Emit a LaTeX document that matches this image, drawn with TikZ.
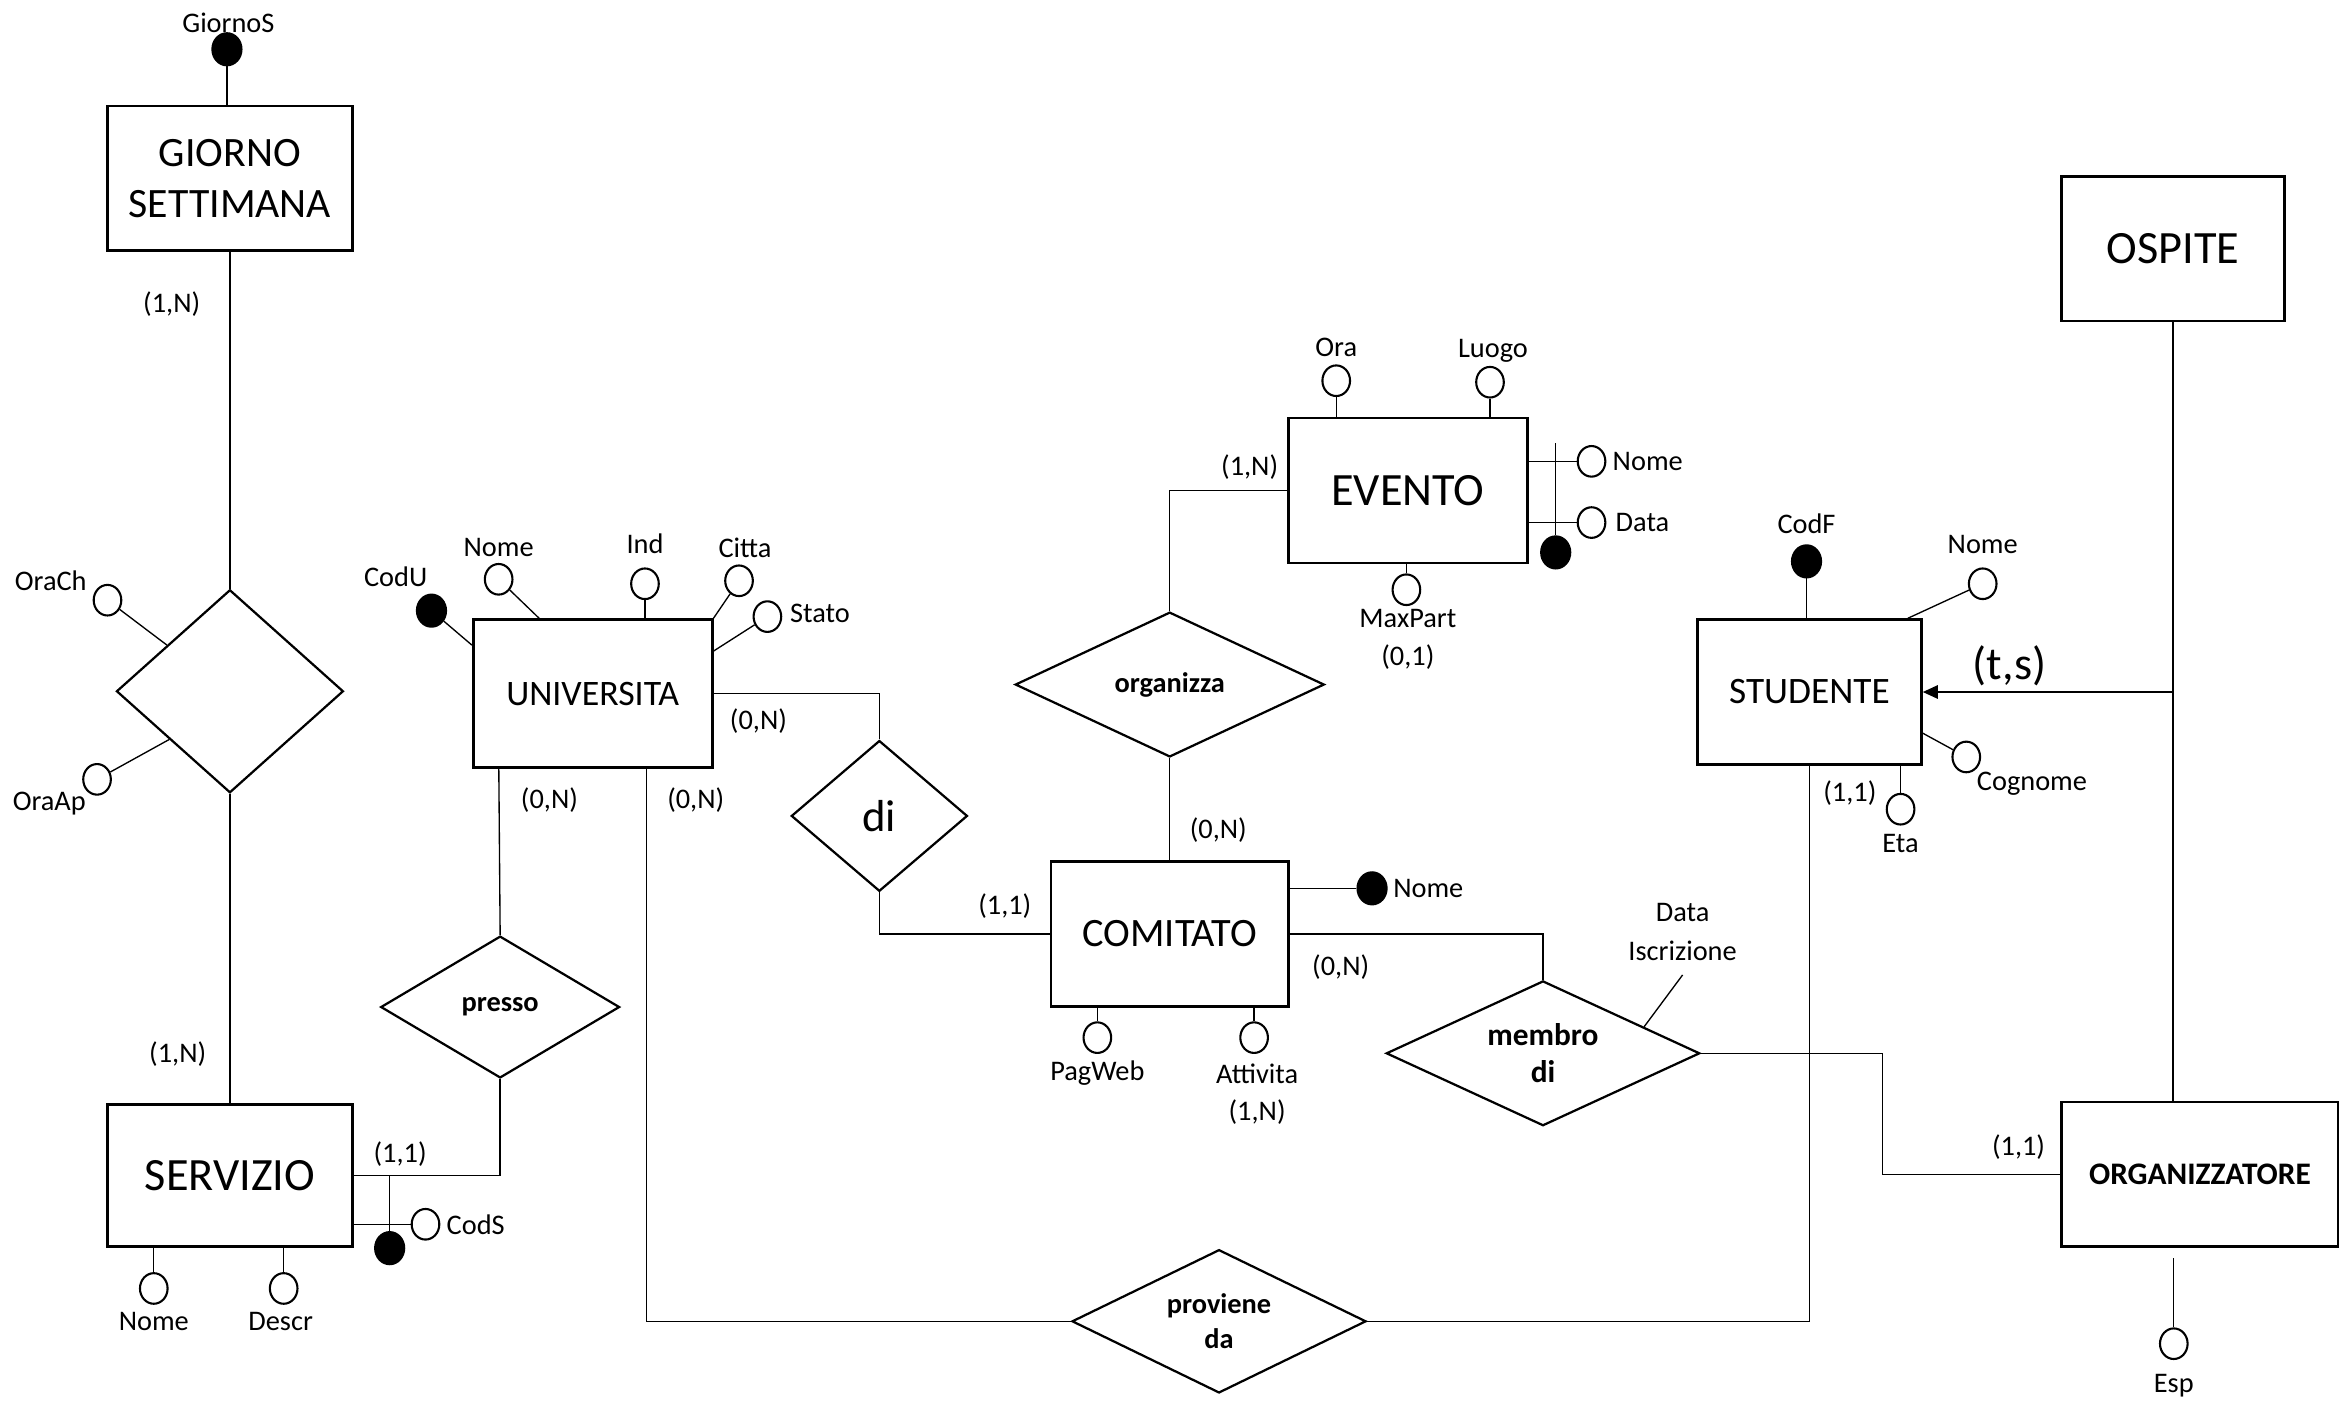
\documentclass[tikz,border=0pt]{standalone}
\usepackage{fontspec}
\setmainfont{Carlito}
\usetikzlibrary{shapes.geometric,arrows.meta,calc}
\begin{document}
\begin{tikzpicture}[x=1pt,y=-1pt,
  ent/.style={draw,line width=1.8pt,rectangle,inner sep=0pt,align=center},
  rel/.style={draw,line width=1.5pt,diamond,inner sep=0pt,align=center,font=\fontsize{19}{23}\selectfont\bfseries},
  conn/.style={line width=0.9pt},
  attr/.style={draw,ellipse,line width=1.4pt,minimum width=18.5pt,minimum height=20.5pt,inner sep=0pt},
  key/.style={attr,fill=black,minimum width=19.5pt,minimum height=21.5pt},
  lbl/.style={font=\fontsize{19}{23}\selectfont,inner sep=0pt,align=center},
  card/.style={font=\fontsize{19}{23}\selectfont,inner sep=0pt},
]
\useasboundingbox (0,0) rectangle (1568,938);

% ---------- entities ----------
\node[ent,minimum width=164pt,minimum height=97pt,font=\fontsize{28}{34}\selectfont] (gs) at (154,119.5) {GIORNO\\SETTIMANA};
\node[ent,minimum width=164pt,minimum height=95pt,font=\fontsize{31}{37}\selectfont] (serv) at (154,787.5) {SERVIZIO};
\node[ent,minimum width=160pt,minimum height=99pt,font=\fontsize{24}{29}\selectfont] (univ) at (397,464.5) {UNIVERSITA};
\node[ent,minimum width=159pt,minimum height=97pt,font=\fontsize{27}{32}\selectfont] (com) at (783.5,625.5) {COMITATO};
\node[ent,minimum width=160pt,minimum height=97pt,font=\fontsize{31}{37}\selectfont] (ev) at (943,328.5) {EVENTO};
\node[ent,minimum width=150pt,minimum height=97pt,font=\fontsize{25}{30}\selectfont] (stud) at (1212,463.5) {STUDENTE};
\node[ent,minimum width=149pt,minimum height=97pt,font=\fontsize{31}{37}\selectfont] (osp) at (1455.5,166.5) {OSPITE};
\node[ent,minimum width=185pt,minimum height=97pt,font=\fontsize{21}{25}\selectfont\bfseries] (org) at (1473.5,786.5) {ORGANIZZATORE};

% ---------- relationships ----------
\node[rel,shape aspect=1.1,minimum width=152pt,minimum height=136pt] (rg) at (154,463) {};
\node[rel,shape aspect=1.7,minimum width=160pt,minimum height=95pt] (presso) at (335,674.5) {presso};
\node[rel,shape aspect=1.17,minimum width=118pt,minimum height=101pt,font=\fontsize{30}{36}\selectfont] (di) at (589,546.5) {di};
\node[rel,shape aspect=2.1,minimum width=207pt,minimum height=97pt] (orgz) at (783.5,458.5) {organizza};
\node[rel,shape aspect=2.15,minimum width=210pt,minimum height=97pt,font=\fontsize{21}{25}\selectfont\bfseries] (memb) at (1033.5,705.5) {membro\\di};
\node[rel,shape aspect=2.05,minimum width=197pt,minimum height=96pt] (prov) at (816.5,885) {proviene\\da};

% ---------- connectors ----------
\draw[conn] (gs.south) -- (rg.north);
\draw[conn] (rg.south) -- (serv.north);
\draw[conn] ($(univ.south west)+(18,0)$) -- (presso.north);
\draw[conn] (presso.south) |- (serv.east);
\draw[conn] ($(univ.south east)+(-45,0)$) |- (prov.west);
\draw[conn] (univ.east) -| (di.north);
\draw[conn] (di.south) |- (com.west);
\draw[conn] (com.north) -- (orgz.south);
\draw[conn] (orgz.north) |- (ev.west);
\draw[conn] (com.east) -| (memb.north);
\coordinate (mbend) at (1261,705.5);
\draw[conn] (memb.east) -- (mbend) |- (org.west);
\draw[conn] (prov.east) -| (stud.south);
\draw[conn] (osp.south) -- (osp.south |- org.north);
\coordinate (isa) at (osp.south |- stud.east);
\draw[conn,-{Triangle[length=10pt,width=9pt]}] (isa) -- (stud.east);
\node[font=\fontsize{31}{37}\selectfont,inner sep=0pt] (ts) at (1346,446) {(t,s)};

% ---------- cardinalities ----------
\node[card] (c1) at (115,204) {(1,N)};
\node[card] (c2) at (119,706) {(1,N)};
\node[card] (c3) at (268,773) {(1,1)};
\node[card] (c4) at (368,536) {(0,N)};
\node[card] (c5) at (466,536) {(0,N)};
\node[card] (c6) at (508,483) {(0,N)};
\node[card] (c7) at (673,607) {(1,1)};
\node[card] (c8) at (816,556) {(0,N)};
\node[card] (c9) at (837,313) {(1,N)};
\node[card] (c10) at (898,648) {(0,N)};
\node[card] (c11) at (1239,531) {(1,1)};
\node[card] (c12) at (1352,768) {(1,1)};

% ---------- GIORNO SETTIMANA ----------
\node[key] (kgs) at (152,33) {};
\node[lbl] (tgs) at (153,15) {GiornoS};
\draw[conn] (kgs) -- (kgs |- gs.north);

% ---------- relationship rg attributes ----------
\node[attr] (aoc) at (72,402) {};
\node[lbl] (toc) at (34,389) {OraCh};
\draw[conn] (aoc) -- ($(rg.west)!0.45!(rg.north)$);
\node[attr] (aoa) at (65,522) {};
\node[lbl] (toa) at (33,538) {OraAp};
\draw[conn] (aoa) -- ($(rg.west)!0.47!(rg.south)$);

% ---------- SERVIZIO ----------
\node[attr] (asn) at (103,863) {};
\node[lbl] (tsn) at (103,885) {Nome};
\draw[conn] (asn) -- (asn |- serv.south);
\node[attr] (asd) at (190,863) {};
\node[lbl] (tsd) at (188,885) {Descr};
\draw[conn] (asd) -- (asd |- serv.south);
\node[attr] (acs) at (285,820) {};
\node[lbl,anchor=west] (tcs) at (299,820) {CodS};
\draw[conn] (acs) -- (acs -| serv.east);
\node[key] (kcs) at (261,836) {};
\draw[conn] (kcs) -- (kcs |- serv.east);

% ---------- UNIVERSITA ----------
\node[key] (kcu) at (289,409) {};
\node[lbl] (tcu) at (265,386) {CodU};
\draw[conn] (kcu) -- ($(univ.north west)+(0,18)$);
\node[attr] (aun) at (334,388) {};
\node[lbl] (tun) at (334,367) {Nome};
\draw[conn] (aun) -- ($(univ.north west)+(45,0)$);
\node[attr] (aui) at (432,391) {};
\node[lbl] (tui) at (432,364) {Ind};
\draw[conn] (aui) -- (aui |- univ.north);
\node[attr] (auc) at (495,389) {};
\node[lbl] (tuc) at (499,367) {Citta};
\draw[conn] (auc) -- (univ.north east);
\node[attr] (aus) at (514,413) {};
\node[lbl,anchor=west] (tus) at (529,411) {Stato};
\draw[conn] (aus) -- ($(univ.north east)+(0,22)$);

% ---------- EVENTO ----------
\node[attr] (aeo) at (895,255) {};
\node[lbl] (teo) at (895,233) {Ora};
\draw[conn] (aeo) -- (aeo |- ev.north);
\node[attr] (ael) at (998,256) {};
\node[lbl] (tel) at (1000,235) {Luogo};
\draw[conn] (ael) -- (ael |- ev.north);
\node[attr] (aen) at (1066,309) {};
\node[lbl,anchor=west] (ten) at (1080,309) {Nome};
\draw[conn] (aen) -- (aen -| ev.east);
\node[attr] (aed) at (1066,350) {};
\node[lbl,anchor=west] (ted) at (1082,350) {Data};
\draw[conn] (aed) -- (aed -| ev.east);
\node[key] (kev) at (1042,370) {};
\coordinate (kevtop) at (1042,297);
\draw[conn] (kev) -- (kevtop);
\node[attr] (aem) at (942,395) {};
\node[lbl] (tem) at (943,414) {MaxPart};
\node[card] (cem) at (943,440) {(0,1)};
\draw[conn] (aem) -- (aem |- ev.south);

% ---------- COMITATO ----------
\node[key] (kcn) at (919,595) {};
\node[lbl,anchor=west] (tcn) at (933,595) {Nome};
\draw[conn] (kcn) -- (kcn -| com.east);
\node[attr] (acp) at (735,695) {};
\node[lbl] (tcp) at (735,719) {PagWeb};
\draw[conn] (acp) -- (acp |- com.south);
\node[attr] (aca) at (840,695) {};
\node[lbl] (tca) at (842,719) {Attivita};
\node[card] (cca) at (842,745) {(1,N)};
\draw[conn] (aca) -- (aca |- com.south);

% ---------- membro di attribute ----------
\node[lbl,font=\fontsize{19}{26}\selectfont] (tdi) at (1127,624) {Data\\Iscrizione};
\coordinate (dit) at (1127,653);
\draw[conn] (dit) -- ($(memb.north)!0.64!(memb.east)$);

% ---------- STUDENTE ----------
\node[key] (ksf) at (1210,376) {};
\node[lbl] (tsf) at (1210,351) {CodF};
\draw[conn] (ksf) -- (ksf |- stud.north);
\node[attr] (asn2) at (1328,391) {};
\node[lbl] (tsn2) at (1328,365) {Nome};
\draw[conn] (asn2) -- ($(stud.north east)+(-10,0)$);
\node[attr] (asc) at (1317,507) {};
\node[lbl] (tsc) at (1361,525) {Cognome};
\draw[conn] (asc) -- ($(stud.north east)+(0,77)$);
\node[attr] (ase) at (1273,542) {};
\node[lbl] (tse) at (1273,565) {Eta};
\draw[conn] (ase) -- (ase |- stud.south);

% ---------- ORGANIZZATORE ----------
\node[attr] (aes) at (1456,900) {};
\node[lbl] (tes) at (1456,928) {Esp};
\coordinate (estop) at ($(aes.north |- org.south)+(0,7)$);
\draw[conn] (aes) -- (estop);
\end{tikzpicture}
\end{document}
